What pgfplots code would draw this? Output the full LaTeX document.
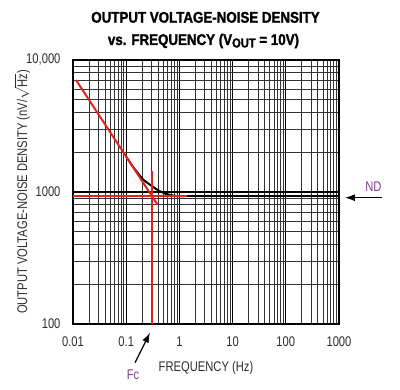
\documentclass[border=0pt]{standalone}
\usepackage{pgfplots}
\pgfplotsset{compat=1.18}
\usepackage{fontspec}
\setmainfont{Liberation Sans}[FakeStretch=0.8]
\newfontfamily\titlefont{Liberation Sans}[FakeStretch=0.86, BoldFeatures={FakeBold=1.6}]
\usetikzlibrary{arrows.meta}
\definecolor{rl}{RGB}{225,35,30}
\definecolor{pur}{RGB}{125,65,140}
\definecolor{txt}{RGB}{45,45,45}
\begin{document}
\begin{tikzpicture}[x=1pt,y=1pt]
\useasboundingbox (-73,-66) rectangle (327,324);
\begin{axis}[
  at={(0,0)}, anchor=south west,
  scale only axis, width=266pt, height=264pt,
  xmode=log, ymode=log,
  xmin=0.01, xmax=1000, ymin=100, ymax=10000,
  xtick={0.01,0.1,1,10,100,1000},
  xticklabels={0.01,0.1,1,10,100,1000},
  ytick={100,1000,10000},
  yticklabels={100,1000,{10,000}},
  minor xtick={0.02,0.03,0.04,0.05,0.06,0.07,0.08,0.09,
               0.2,0.3,0.4,0.5,0.6,0.7,0.8,0.9,
               2,3,4,5,6,7,8,9,
               20,30,40,50,60,70,80,90,
               200,300,400,500,600,700,800,900},
  minor ytick={200,300,400,500,600,700,800,900,
               2000,3000,4000,5000,6000,7000,8000,9000},
  grid=both,
  major grid style={black, line width=1.1pt},
  minor grid style={black!80, line width=0.75pt},
  axis line style={black, line width=2pt},
  major tick length=0pt, minor tick length=0pt,
  tick label style={font=\fontsize{14}{14}\selectfont, text=txt},
  xticklabel style={yshift=-9pt},
  yticklabel style={xshift=-9pt},
  xlabel={FREQUENCY (Hz)},
  ylabel={OUTPUT VOLTAGE-NOISE DENSITY (nV/$\sqrt{\mbox{Hz}}$)},
  label style={font=\fontsize{14}{14}\selectfont, text=txt},
  xlabel style={at={(axis description cs:0.5,-0.18)}, anchor=base},
  ylabel style={at={(axis description cs:-0.1917,0.5)}, anchor=center},
]
\addplot[black, line width=2pt, smooth] coordinates {
  (0.1,1850)(0.136,1540)(0.17,1370)(0.209,1240)(0.26,1160)(0.323,1090)
  (0.4,1030)(0.498,985)(0.6,960)(0.716,944)(0.9,933)(1.2,928)};
\addplot[black, line width=2pt] coordinates {(1.2,928)(1000,928)};
\addplot[rl, line width=2pt] coordinates {(0.0114,7050)(0.39,800)};
\addplot[rl, line width=2pt] coordinates {(0.01,925)(1.4,925)};
\addplot[rl, line width=2pt] coordinates {(0.3,100)(0.3,1430)};
\end{axis}
\node[anchor=base, font=\titlefont\bfseries\fontsize{15.5}{16}\selectfont] at (132.5,301.3) {OUTPUT VOLTAGE-NOISE DENSITY};
\node[anchor=base, font=\titlefont\bfseries\fontsize{15.5}{16}\selectfont] at (130.5,279) {vs. FREQUENCY (V\raisebox{-0.3ex}{\fontsize{13}{13}\selectfont OUT} = 10V)};
\draw[-{Latex[length=10pt,width=7pt]}, line width=1.2pt] (308.7,126.3) -- (272,126.3);
\node[text=pur, font=\fontsize{14}{14}\selectfont] at (300.5,137) {ND};
\draw[-{Latex[length=10pt,width=7pt]}, line width=1.2pt] (62,-38.7) -- (77,-8.7);
\node[text=pur, font=\fontsize{14}{14}\selectfont] at (60,-51) {Fc};
\end{tikzpicture}
\end{document}
